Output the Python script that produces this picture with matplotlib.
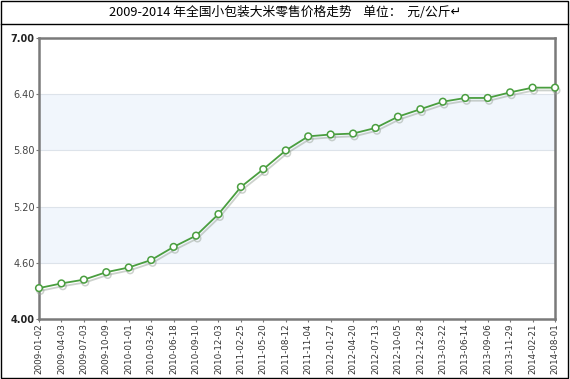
import matplotlib.pyplot as plt
import matplotlib.patheffects as pe
from matplotlib.lines import Line2D
from matplotlib.patches import Rectangle

plt.rcParams['font.family'] = ['DejaVu Sans']

dates = ['2009-01-02', '2009-04-03', '2009-07-03', '2009-10-09', '2010-01-01',
         '2010-03-26', '2010-06-18', '2010-09-10', '2010-12-03', '2011-02-25',
         '2011-05-20', '2011-08-12', '2011-11-04', '2012-01-27', '2012-04-20',
         '2012-07-13', '2012-10-05', '2012-12-28', '2013-03-22', '2013-06-14',
         '2013-09-06', '2013-11-29', '2014-02-21', '2014-08-01']
prices = [4.33, 4.38, 4.42, 4.50, 4.55, 4.63, 4.77, 4.89, 5.12, 5.41,
          5.60, 5.80, 5.95, 5.97, 5.98, 6.04, 6.16, 6.24, 6.32, 6.36,
          6.36, 6.42, 6.47, 6.47]
yticks = [4.00, 4.60, 5.20, 5.80, 6.40, 7.00]
bands = [(4.60, 5.20), (5.80, 6.40)]
title = '2009-2014 年全国小包装大米零售价格走势    单位：  元/公斤↵'

fig = plt.figure(figsize=(5.7, 3.79), dpi=100)
ax = fig.add_axes([0.0684, 0.1583, 0.9053, 0.7414])

x = list(range(len(dates)))
for lo, hi in bands:
    ax.axhspan(lo, hi, color='#f1f6fc', zorder=0, lw=0)
for v in yticks[1:-1]:
    ax.axhline(v, color='#dde3ea', lw=0.8, zorder=1)

ax.plot(x, prices, color='#4a9e3f', lw=1.3, marker='o', ms=4.8,
        mfc='white', mec='#4a9e3f', mew=1.1, zorder=3, clip_on=False,
        path_effects=[pe.SimpleLineShadow(offset=(1, -2), shadow_color='#9aa59a', alpha=0.5),
                      pe.Normal()])

ax.set_xlim(0, len(dates) - 1)
ax.set_ylim(4.0, 7.0)
ax.set_xticks(x)
ax.set_xticklabels(dates, rotation=90, fontsize=6.3, color='#333333')
ax.set_yticks(yticks)
ax.set_yticklabels(['%.2f' % v for v in yticks], fontsize=7, color='#444444')
for lab in (ax.get_yticklabels()[0], ax.get_yticklabels()[-1]):
    lab.set_fontweight('bold')
    lab.set_color('#222222')
ax.tick_params(axis='both', length=2, width=0.8, color='#777777', pad=1)
for s in ax.spines.values():
    s.set_color('#7a7a7a')
    s.set_linewidth(1.8)

# outer frame and title row
fig.patches.append(Rectangle((0.002, 0.003), 0.995, 0.994, transform=fig.transFigure,
                             fill=False, ec='black', lw=1))
fig.lines.append(Line2D([0.002, 0.997], [0.9367, 0.9367], transform=fig.transFigure,
                        color='black', lw=1))
fig.text(0.5, 0.966, title, ha='center', va='center', fontsize=9.2,
         family=['Noto Sans CJK SC', 'DejaVu Sans'])

fig.savefig('out.png', dpi=100)
